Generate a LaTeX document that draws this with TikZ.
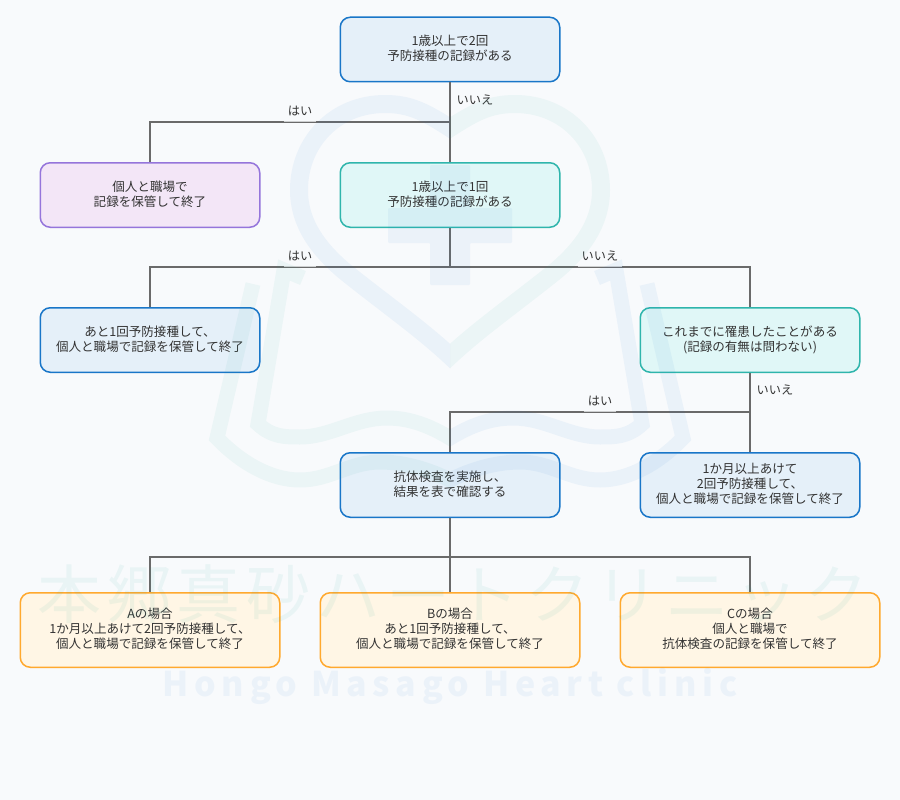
\documentclass[tikz,border=0pt]{standalone}
\usepackage{fontspec}
\setmainfont{Noto Sans CJK JP}
\newfontfamily\kanjimark[LetterSpace=9]{Noto Sans CJK JP}
\newfontfamily\latinmark[LetterSpace=16.7]{Noto Sans CJK JP}
\usepackage{tikz}

\definecolor{pagebg}{HTML}{F8FAFC}
\definecolor{inkgray}{HTML}{333333}
\definecolor{linegray}{HTML}{6A6A6A}
\definecolor{blueline}{HTML}{1976C8}
\definecolor{bluefill}{HTML}{E5F0F9}
\definecolor{tealline}{HTML}{2FB5AC}
\definecolor{tealfill}{HTML}{E0F7F7}
\definecolor{purpleline}{HTML}{9575DB}
\definecolor{purplefill}{HTML}{F3E6F7}
\definecolor{orangeline}{HTML}{FFA92E}
\definecolor{orangefill}{HTML}{FFF6E5}
\definecolor{markblue}{HTML}{1976D2}
\definecolor{markgreen}{HTML}{26A69A}

\tikzset{
    flowbox/.style={shape=rectangle,rounded corners=10pt,line width=1.5pt,text=inkgray,align=center,
        minimum width=219.5pt,minimum height=64.5pt,inner sep=0pt,text depth=3.5pt,font=\fontsize{12.55}{15}\selectfont},
    bluebox/.style={flowbox,draw=blueline,fill=bluefill},
    tealbox/.style={flowbox,draw=tealline,fill=tealfill},
    purplebox/.style={flowbox,draw=purpleline,fill=purplefill},
    orangebox/.style={flowbox,draw=orangeline,fill=orangefill,minimum width=259.5pt,minimum height=74.5pt},
    flowline/.style={draw=linegray,line width=1.5pt},
    answer/.style={fill=pagebg,fill opacity=.7,text opacity=1,text=inkgray,inner sep=0pt,
        minimum height=22pt,font=\fontsize{12.2}{14}\selectfont},
    markband/.style={line width=#1,opacity=.06,line join=miter},
}

\begin{document}
\begin{tikzpicture}[x=1pt,y=-1pt]
        \useasboundingbox (0,0) rectangle (900,800);
        \fill[pagebg] (0,0) rectangle (900,800);

        \node[bluebox] (twice) at (450,49.5) {1歳以上で2回\\予防接種の記録がある};
        \node[purplebox] (keep) at (150,195) {個人と職場で\\記録を保管して終了};
        \node[tealbox] (once) at (450,195) {1歳以上で1回\\予防接種の記録がある};
        \node[bluebox] (onemore) at (150,340) {あと1回予防接種して、\\個人と職場で記録を保管して終了};
        \node[tealbox] (infected) at (750,340) {これまでに罹患したことがある\\(記録の有無は問わない)};
        \node[bluebox] (antibody) at (450,485) {抗体検査を実施し、\\結果を表で確認する};
        \node[bluebox] (twomore) at (750,485) {1か月以上あけて\\2回予防接種して、\\個人と職場で記録を保管して終了};
        \node[orangebox] (caseA) at (150,630) {Aの場合\\1か月以上あけて2回予防接種して、\\個人と職場で記録を保管して終了};
        \node[orangebox] (caseB) at (450,630) {Bの場合\\あと1回予防接種して、\\個人と職場で記録を保管して終了};
        \node[orangebox] (caseC) at (750,630) {Cの場合\\個人と職場で\\抗体検査の記録を保管して終了};

        \coordinate (keepturn) at (150,122);
        \coordinate (onemoreturn) at (150,267);
        \coordinate (infectedturn) at (750,267);
        \coordinate (antibodyturn) at (450,412);
        \coordinate (caseAturn) at (150,557);
        \coordinate (caseCturn) at (750,557);

        \path[flowline] (twice) -- (once);
        \path[flowline] (twice) |- (keepturn) -- (keep);
        \path[flowline] (once) |- (onemoreturn) -- (onemore);
        \path[flowline] (once) |- (infectedturn) -- (infected);
        \path[flowline] (infected) -- (twomore);
        \path[flowline] (infected) |- (antibodyturn) -- (antibody);
        \path[flowline] (antibody) -- (caseB);
        \path[flowline] (antibody) |- (caseAturn) -- (caseA);
        \path[flowline] (antibody) |- (caseCturn) -- (caseC);

        \node[answer,minimum width=32pt] (yes1) at (300,111) {はい};
        \node[answer,minimum width=44pt] (no1) at (475,100) {いいえ};
        \node[answer,minimum width=32pt] (yes2) at (300,256) {はい};
        \node[answer,minimum width=44pt] (no2) at (600,256) {いいえ};
        \node[answer,minimum width=32pt] (yes3) at (600,401) {はい};
        \node[answer,minimum width=44pt] (no3) at (775,390) {いいえ};

        % pale clinic mark over everything
        \foreach \flip/\heartcolor/\bookcolor in {1/markblue/markgreen,-1/markgreen/markblue} {
            \begin{scope}[shift={(450,0)},xscale=\flip]
                \clip (0,0) rectangle (-460,800);
                \draw[markband=18pt,draw=\heartcolor] (15,138) -- (0,128) .. controls (-25,112) and (-40,104) .. (-65,104)
                    .. controls (-115,104) and (-151,142) .. (-151,190)
                    .. controls (-151,225) and (-130,250) .. (-107,270)
                    .. controls (-70,300) and (-30,328) .. (0,356) -- (15,370);
                \draw[markband=15pt,draw=\bookcolor] (-147,278) -- (-166,270) -- (-192,424)
                    .. controls (-178,437) and (-165,437) .. (-150,437)
                    .. controls (-120,437) and (-95,418) .. (-63,418)
                    .. controls (-40,418) and (-20,426) .. (0,438) -- (15,447);
                \draw[markband=15pt,draw=\bookcolor] (-197,284) -- (-233,438)
                    .. controls (-210,462) and (-180,480) .. (-150,480)
                    .. controls (-120,480) and (-100,462) .. (-70,462)
                    .. controls (-45,462) and (-20,470) .. (0,480) -- (15,489);
            \end{scope}
        }
        \fill[markblue,opacity=.055,rounded corners=1pt] (430,165) -- (470,165) -- (470,208) -- (512,208) -- (512,243)
            -- (470,243) -- (470,285) -- (430,285) -- (430,243) -- (388,243) -- (388,208) -- (430,208) -- cycle;
        \node[text=markgreen,opacity=.07,inner sep=0pt,font=\fontsize{64}{70}\kanjimark] (markname) at (453,594) {本郷真砂ハートクリニック};
        \node[text=markblue,opacity=.055,inner sep=0pt,font=\fontsize{34}{40}\latinmark\bfseries] (markroman) at (450,686) {Hongo Masago Heart clinic};
    \end{tikzpicture}
\end{document}
